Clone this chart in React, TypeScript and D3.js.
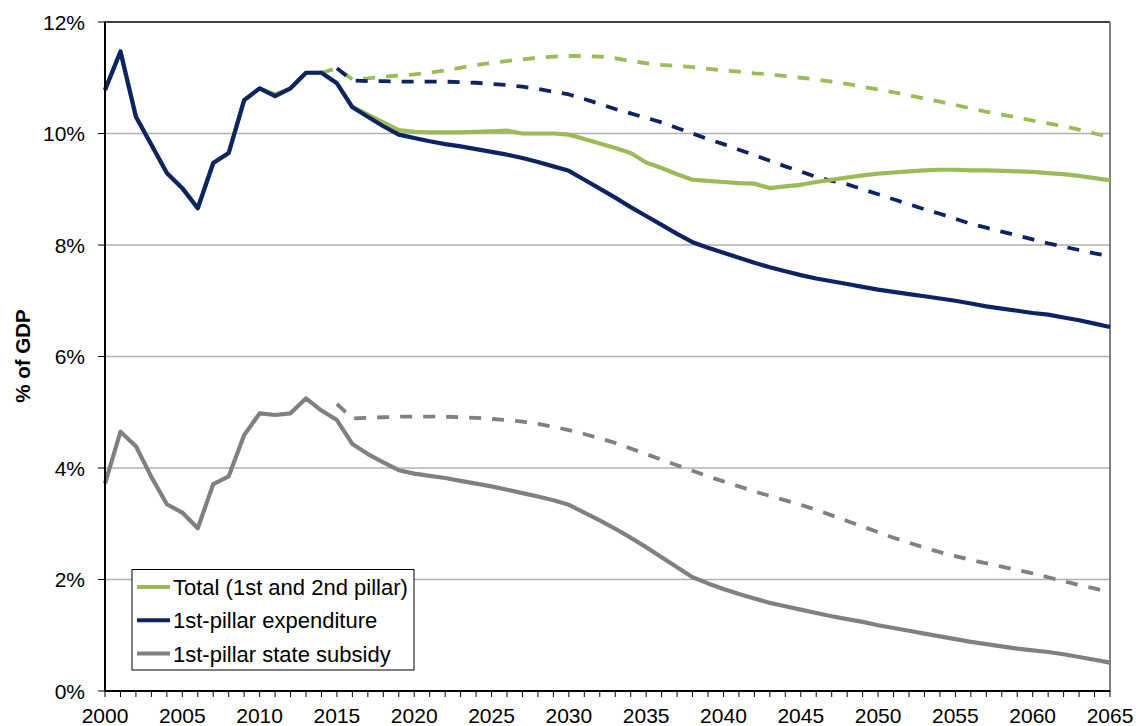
import * as d3 from "d3";

const years = d3.range(2000, 2066);
const projYears = d3.range(2014, 2066);

// 1st-pillar expenditure, % of GDP (2000-2065)
const firstPillar = [
  10.78, 11.47, 10.3, 9.8, 9.29, 9.02, 8.66, 9.47, 9.65, 10.6,
  10.81, 10.67, 10.81, 11.09, 11.09, 10.9, 10.47, 10.3, 10.13, 9.98,
  9.92, 9.86, 9.81, 9.77, 9.72, 9.67, 9.62, 9.56, 9.49, 9.41,
  9.33, 9.17, 9.01, 8.85, 8.68, 8.52, 8.36, 8.2, 8.05, 7.95,
  7.86, 7.77, 7.68, 7.6, 7.53, 7.46, 7.4, 7.35, 7.3, 7.25,
  7.2, 7.16, 7.12, 7.08, 7.04, 7.0, 6.95, 6.9, 6.86, 6.82,
  6.78, 6.75, 6.7, 6.65, 6.59, 6.53,
];

// Total (1st and 2nd pillar)
const total = [
  10.78, 11.47, 10.3, 9.8, 9.29, 9.02, 8.66, 9.47, 9.65, 10.6,
  10.81, 10.7, 10.81, 11.09, 11.09, 10.9, 10.48, 10.34, 10.2, 10.06,
  10.03, 10.02, 10.02, 10.02, 10.03, 10.04, 10.05, 10.0, 10.0, 10.0,
  9.98, 9.9, 9.82, 9.74, 9.65, 9.48, 9.38, 9.27, 9.17, 9.15,
  9.13, 9.11, 9.1, 9.02, 9.05, 9.08, 9.13, 9.17, 9.21, 9.25,
  9.28, 9.3, 9.32, 9.34, 9.35, 9.35, 9.34, 9.34, 9.33, 9.32,
  9.31, 9.29, 9.27, 9.24, 9.2, 9.16,
];

// 1st-pillar state subsidy
const subsidy = [
  3.72, 4.65, 4.39, 3.84, 3.35, 3.2, 2.92, 3.71, 3.85, 4.59,
  4.98, 4.95, 4.98, 5.25, 5.03, 4.86, 4.43, 4.25, 4.1, 3.96,
  3.9, 3.86, 3.82, 3.77, 3.72, 3.67, 3.61, 3.55, 3.49, 3.42,
  3.34, 3.2, 3.06, 2.91, 2.75, 2.58, 2.4, 2.22, 2.04, 1.93,
  1.83, 1.74, 1.66, 1.58, 1.52, 1.46, 1.4, 1.34, 1.29, 1.24,
  1.18, 1.13, 1.08, 1.03, 0.98, 0.93, 0.88, 0.84, 0.8, 0.76,
  0.73, 0.7, 0.66, 0.61, 0.56, 0.51,
];

// dashed scenario lines, 2014-2065 (null = no value)
const totalDashed = [
  11.09, 11.17, 10.97, 10.99, 11.02, 11.04, 11.06, 11.09, 11.13, 11.18,
  11.23, 11.27, 11.3, 11.33, 11.36, 11.38, 11.39, 11.39, 11.38, 11.35,
  11.3, 11.26, 11.23, 11.21, 11.19, 11.16, 11.13, 11.11, 11.08, 11.06,
  11.03, 11.0, 10.97, 10.93, 10.89, 10.84, 10.79, 10.74, 10.68, 10.63,
  10.57, 10.51, 10.45, 10.39, 10.34, 10.29, 10.23, 10.18, 10.13, 10.07,
  10.0, 9.94,
];
const firstPillarDashed = [
  null, 11.17, 10.95, 10.94, 10.94, 10.93, 10.93, 10.93, 10.93, 10.92,
  10.91, 10.89, 10.87, 10.84, 10.8, 10.75, 10.7, 10.62, 10.53, 10.44,
  10.36, 10.28, 10.2, 10.1, 10.0, 9.9, 9.81, 9.71, 9.61, 9.51,
  9.41, 9.32, 9.22, 9.15, 9.09, 9.0, 8.91, 8.82, 8.73, 8.64,
  8.56, 8.47, 8.38, 8.31, 8.24, 8.17, 8.1, 8.03, 7.97, 7.91,
  7.85, 7.8,
];
const subsidyDashed = [
  null, 5.15, 4.89, 4.9, 4.91, 4.92, 4.92, 4.92, 4.92, 4.91,
  4.9, 4.88, 4.86, 4.83, 4.79, 4.74, 4.68, 4.61, 4.53, 4.45,
  4.35, 4.25, 4.15, 4.05, 3.95, 3.85, 3.76, 3.67, 3.58, 3.5,
  3.42, 3.34, 3.25, 3.15, 3.05, 2.95, 2.85, 2.75, 2.66, 2.57,
  2.49, 2.42, 2.35, 2.29, 2.23, 2.17, 2.11, 2.04, 1.97, 1.9,
  1.84, 1.77,
];

const yTicks = [0, 2, 4, 6, 8, 10, 12];
const xLabels = d3.range(2000, 2066, 5);
const legendItems = [
  { label: "Total (1st and 2nd pillar)", color: "#9bbb59" },
  { label: "1st-pillar expenditure", color: "#0c2461" },
  { label: "1st-pillar state subsidy", color: "#808080" },
];

const W = 1136;
const H = 726;
const m = { left: 105, right: 1110, top: 22, bottom: 691 };
const font = "Liberation Sans, Arial, sans-serif";

export default function App() {
  const x = d3.scaleLinear().domain([2000, 2065]).range([m.left, m.right]);
  const y = d3.scaleLinear().domain([0, 12]).range([m.bottom, m.top]);

  const line = d3
    .line<[number, number | null]>()
    .defined((d) => d[1] != null)
    .x((d) => x(d[0]))
    .y((d) => y(d[1] as number));

  const full = (vals: number[]) => years.map((yr, i) => [yr, vals[i]] as [number, number]);
  const proj = (vals: (number | null)[]) => projYears.map((yr, i) => [yr, vals[i]] as [number, number | null]);

  const series = [
    { d: line(proj(totalDashed)), color: legendItems[0].color, dash: "12,11", w: 3.8 },
    { d: line(proj(firstPillarDashed)), color: legendItems[1].color, dash: "12,11", w: 3.8 },
    { d: line(proj(subsidyDashed)), color: legendItems[2].color, dash: "12,11", w: 3.8 },
    { d: line(full(total)), color: legendItems[0].color, dash: null, w: 4.2 },
    { d: line(full(firstPillar)), color: legendItems[1].color, dash: null, w: 4.2 },
    { d: line(full(subsidy)), color: legendItems[2].color, dash: null, w: 4.2 },
  ];

  return (
    <svg
      width={W}
      height={H}
      style={{ position: "absolute", left: 0, top: 0, background: "#fff" }}
      fontFamily={font}
    >
      {/* gridlines */}
      {yTicks.filter((t) => t > 0 && t < 12).map((t) => (
        <line key={t} x1={m.left} x2={m.right} y1={y(t)} y2={y(t)} stroke="#b0b0b0" strokeWidth={1.3} />
      ))}
      <line x1={m.left} x2={m.right} y1={y(12)} y2={y(12)} stroke="#000" strokeWidth={1.3} />
      <line x1={m.right} x2={m.right} y1={m.top} y2={m.bottom} stroke="#7f7f7f" strokeWidth={2} />

      {/* lines */}
      {series.map((s, i) => (
        <path
          key={i}
          d={s.d ?? ""}
          fill="none"
          stroke={s.color}
          strokeWidth={s.w}
          strokeDasharray={s.dash ?? undefined}
          strokeLinejoin="round"
        />
      ))}

      {/* axes */}
      <line x1={m.left} x2={m.left} y1={m.top - 0.5} y2={m.bottom} stroke="#000" strokeWidth={2} />
      <line x1={m.left} x2={m.right} y1={m.bottom} y2={m.bottom} stroke="#000" strokeWidth={2} />
      {yTicks.map((t) => (
        <g key={t}>
          <line x1={m.left - 7} x2={m.left} y1={y(t)} y2={y(t)} stroke="#000" strokeWidth={1} />
          <text x={85} y={y(t)} dy="0.36em" textAnchor="end" fontSize={21} fill="#000">
            {t}%
          </text>
        </g>
      ))}
      {years.map((yr) => (
        <line key={yr} x1={x(yr)} x2={x(yr)} y1={m.bottom} y2={m.bottom + 6} stroke="#000" strokeWidth={1} />
      ))}
      {xLabels.map((yr) => (
        <text key={yr} x={x(yr)} y={723} textAnchor="middle" fontSize={21} fill="#000">
          {yr}
        </text>
      ))}
      <text
        transform={`translate(30,356) rotate(-90)`}
        textAnchor="middle"
        fontSize={20.5}
        fontWeight="bold"
        fill="#000"
      >
        % of GDP
      </text>

      {/* legend */}
      <rect x={132} y={569.5} width={282} height={100.5} fill="#fff" stroke="#000" strokeWidth={1} />
      {legendItems.map((it, i) => {
        const cy = 587 + i * 33.3;
        return (
          <g key={it.label}>
            <line x1={137} x2={170} y1={cy} y2={cy} stroke={it.color} strokeWidth={4} />
            <text x={173} y={cy} dy="0.36em" fontSize={22} fill="#000">
              {it.label}
            </text>
          </g>
        );
      })}
    </svg>
  );
}
